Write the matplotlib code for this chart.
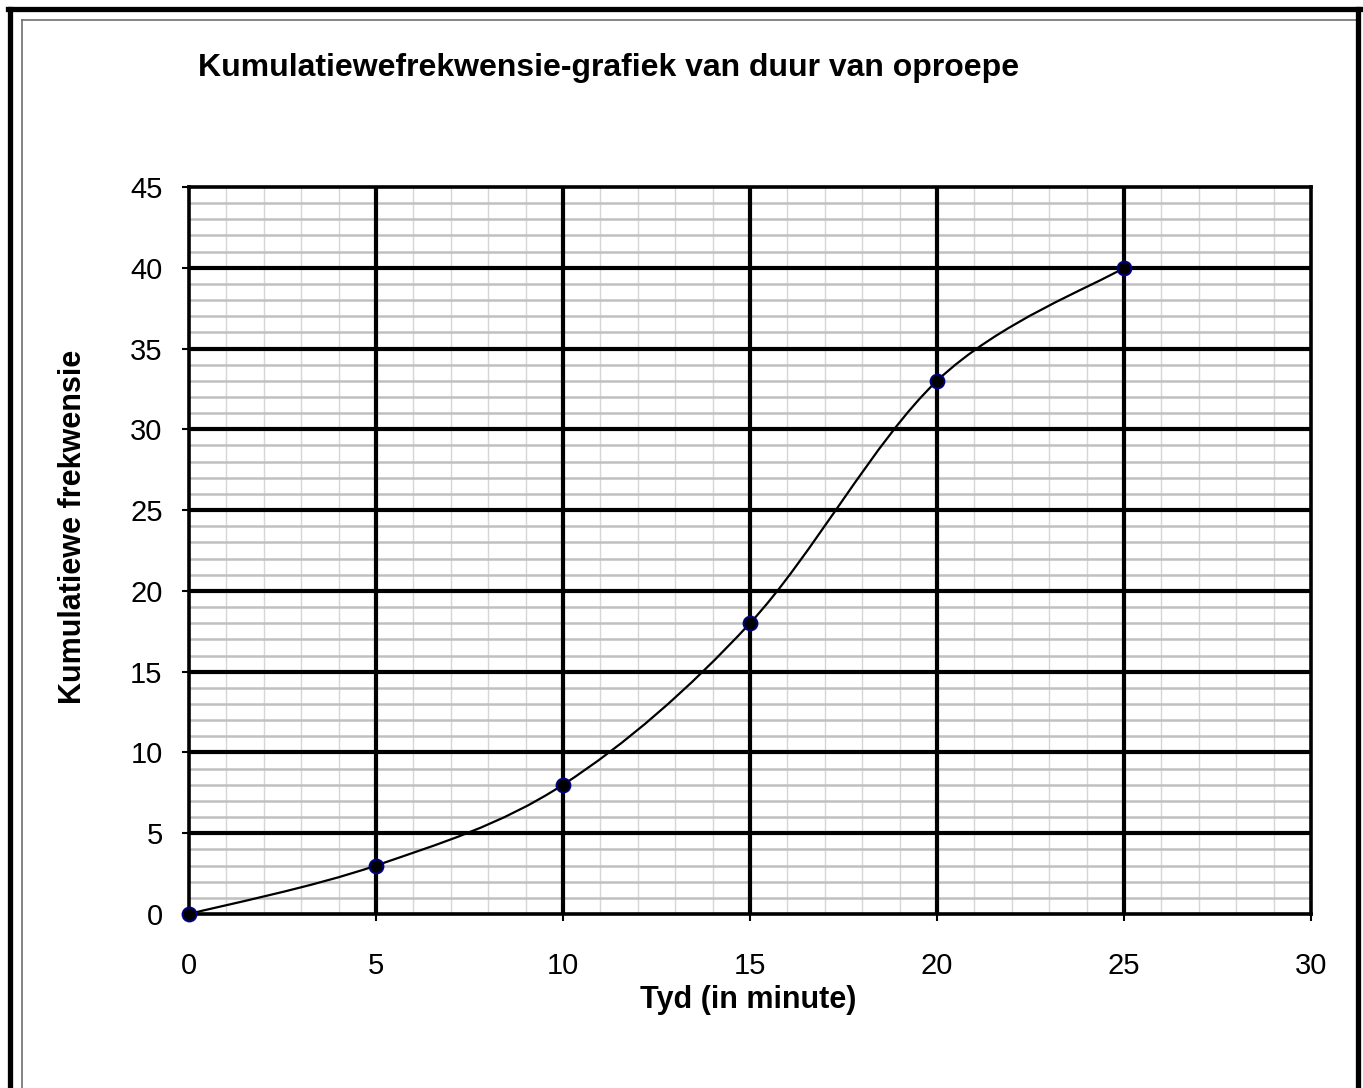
import numpy as np
import matplotlib.pyplot as plt
from matplotlib.path import Path
from matplotlib.patches import PathPatch
from matplotlib.lines import Line2D
from matplotlib.ticker import MultipleLocator

plt.rcParams['font.family'] = ['Liberation Sans', 'DejaVu Sans']

# data
tyd = [0, 5, 10, 15, 20, 25]
kum_frek = [0, 3, 8, 18, 33, 40]

title = "Kumulatiewefrekwensie-grafiek van duur van oproepe"
xlabel = "Tyd (in minute)"
ylabel = "Kumulatiewe frekwensie"

W, H = 1363, 1088
fig = plt.figure(figsize=(W / 100, H / 100), dpi=100)

def fx(px):
    return px / W

def fy(py):
    return 1 - py / H

ax = fig.add_axes([fx(189), fy(914), fx(1311) - fx(189), fy(187) - fy(914)])
ax.set_xlim(0, 30)
ax.set_ylim(0, 45)
ax.xaxis.set_major_locator(MultipleLocator(5))
ax.yaxis.set_major_locator(MultipleLocator(5))
ax.xaxis.set_minor_locator(MultipleLocator(1))
ax.yaxis.set_minor_locator(MultipleLocator(1))

# grid: light minor lines, heavy black major lines on top of them
ax.set_axisbelow(True)
ax.grid(which='minor', axis='x', color='#d6d6d6', lw=1.0)
ax.grid(which='minor', axis='y', color='#c0c0c0', lw=1.8)
xt = [t for t in ax.get_xticks() if 0 < t < 30]
yt = [t for t in ax.get_yticks() if 0 < t < 45]
ax.vlines(xt, 0, 45, colors='black', lw=3.0, zorder=1)
ax.hlines(yt, 0, 30, colors='black', lw=3.0, zorder=1)

for s in ax.spines.values():
    s.set_linewidth(2.6)
    s.set_color('black')
    s.set_zorder(2)

ax.tick_params(which='major', direction='out', length=5, width=1.5,
               labelsize=21)
ax.tick_params(which='minor', length=0)
ax.tick_params(axis='y', pad=14)
ax.tick_params(axis='x', pad=22)

# smoothed line (Bezier control points from the data, as the spreadsheet does)
pts = np.column_stack([tyd, kum_frek]).astype(float)
n = len(pts)
verts = [pts[0]]
codes = [Path.MOVETO]
for i in range(n - 1):
    p0 = pts[i - 1] if i > 0 else pts[i]
    p1 = pts[i]
    p2 = pts[i + 1]
    p3 = pts[i + 2] if i + 2 < n else pts[i + 1]
    c1 = p1 + (p2 - p0) / 6
    c2 = p2 - (p3 - p1) / 6
    verts += [c1, c2, p2]
    codes += [Path.CURVE4] * 3
ax.add_patch(PathPatch(Path(verts, codes), fill=False, lw=1.6,
                       edgecolor='black', zorder=3, clip_on=False))
ax.plot(tyd, kum_frek, ls='none', marker='o', ms=10, mfc='black',
        mec='#000080', mew=1.4, zorder=4, clip_on=False)

# texts
fig.text(fx(198), fy(68), title, fontsize=23, fontweight='bold',
         ha='left', va='center')
fig.text(fx(748), fy(1000), xlabel, fontsize=22, fontweight='bold',
         ha='center', va='center')
fig.text(fx(73), fy(527), ylabel, fontsize=22, fontweight='bold',
         ha='center', va='center', rotation=90)

# outer frame
fig.add_artist(Line2D([fx(22), fx(22)], [fy(20), 0], color='#707070', lw=1.2,
                      transform=fig.transFigure))
fig.add_artist(Line2D([fx(22), fx(1356)], [fy(20), fy(20)], color='#707070',
                      lw=1.2, transform=fig.transFigure))
fig.add_artist(Line2D([fx(9.5), fx(9.5)], [fy(8.5), 0], color='black', lw=3.8,
                      transform=fig.transFigure))
fig.add_artist(Line2D([fx(7.5), fx(1359.5)], [fy(8.5), fy(8.5)], color='black',
                      lw=3.8, transform=fig.transFigure))
fig.add_artist(Line2D([fx(1357.5), fx(1357.5)], [fy(8.5), 0], color='black',
                      lw=3.8, transform=fig.transFigure))

fig.savefig('out.png', dpi=100)
